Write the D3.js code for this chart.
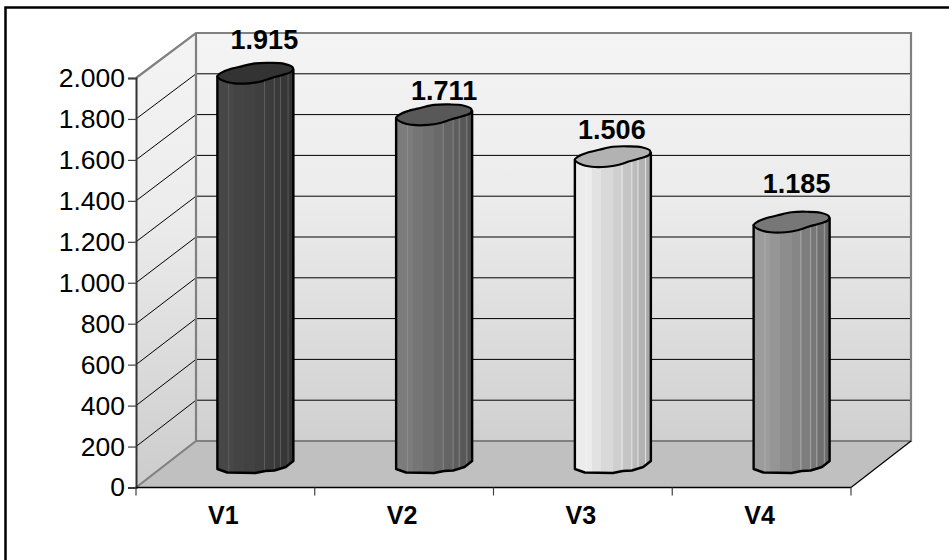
<!DOCTYPE html>
<html>
<head>
<meta charset="utf-8">
<script src="https://cdnjs.cloudflare.com/ajax/libs/d3/7.8.5/d3.min.js"></script>
<style>
  html, body { margin: 0; padding: 0; background: #fff; }
  svg { display: block; font-family: "Liberation Sans", Arial, sans-serif; }
</style>
</head>
<body>
<svg id="chart" width="949" height="560"></svg>
<script>
// Chart data
const categories = ["V1", "V2", "V3", "V4"];
const values = [1915, 1711, 1506, 1185];
const valueLabels = ["1.915", "1.711", "1.506", "1.185"];
const tickValues = [0, 200, 400, 600, 800, 1000, 1200, 1400, 1600, 1800, 2000];
const tickLabels = ["0", "200", "400", "600", "800", "1.000", "1.200", "1.400", "1.600", "1.800", "2.000"];

const svg = d3.select("#chart");
const defs = svg.append("defs");

// Oblique 3D frame: front plane plus a depth offset for the back wall
const depthX = 60;
const frontLeft = 136, frontRight = 851;
const yFront = d3.scaleLinear().domain([0, 2000]).range([487.5, 78]);
const yBack = d3.scaleLinear().domain([0, 2000]).range([441, 33]);
const yMid = d3.scaleLinear().domain([0, 2000]).range([464, 56]);
const xFront = d3.scaleBand().domain(categories).range([frontLeft, frontRight]);
const backLeft = frontLeft + depthX, backRight = frontRight + depthX;

// Chart area border (open at the right and bottom)
svg.append("path")
  .attr("d", "M5.5,560V7.5H949")
  .attr("fill", "none").attr("stroke", "#000").attr("stroke-width", 2.5);

// Wall shading
const wall = defs.append("linearGradient").attr("id", "wall")
  .attr("gradientUnits", "userSpaceOnUse")
  .attr("x1", 0).attr("x2", 0).attr("y1", yBack(2000)).attr("y2", yBack(0));
wall.append("stop").attr("offset", 0).attr("stop-color", "#f4f4f4");
wall.append("stop").attr("offset", 0.4).attr("stop-color", "#ececec");
wall.append("stop").attr("offset", 1).attr("stop-color", "#d0d0d0");
const side = defs.append("linearGradient").attr("id", "side")
  .attr("gradientUnits", "userSpaceOnUse")
  .attr("x1", 0).attr("x2", 0).attr("y1", yBack(2000)).attr("y2", yFront(0));
side.append("stop").attr("offset", 0).attr("stop-color", "#f4f4f4");
side.append("stop").attr("offset", 0.4).attr("stop-color", "#ececec");
side.append("stop").attr("offset", 1).attr("stop-color", "#cccccc");

const polygon = pts => "M" + pts.map(p => p.join(",")).join("L") + "Z";

svg.append("path").attr("fill", "url(#wall)")
  .attr("d", polygon([[backLeft, yBack(2000)], [backRight, yBack(2000)], [backRight, yBack(0)], [backLeft, yBack(0)]]));
svg.append("path").attr("fill", "url(#side)")
  .attr("d", polygon([[frontLeft, yFront(2000)], [backLeft, yBack(2000)], [backLeft, yBack(0)], [frontLeft, yFront(0)]]));
svg.append("path").attr("fill", "#c0c0c0")
  .attr("d", polygon([[frontLeft, yFront(0)], [backLeft, yBack(0)], [backRight, yBack(0)], [frontRight, yFront(0)]]));

// Gridlines on the back wall and the side wall
const inner = tickValues.filter(v => v > 0 && v < 2000);
svg.append("g").selectAll("line").data(inner).join("line")
  .attr("x1", backLeft).attr("x2", backRight)
  .attr("y1", d => yBack(d)).attr("y2", d => yBack(d))
  .attr("stroke", "#000").attr("stroke-width", 1);
svg.append("g").selectAll("line").data(inner).join("line")
  .attr("x1", frontLeft).attr("x2", backLeft)
  .attr("y1", d => yFront(d)).attr("y2", d => yBack(d))
  .attr("stroke", "#000").attr("stroke-width", 1);

// Grey wall edges
svg.append("path")
  .attr("d", `M${frontLeft},${yFront(2000)}L${backLeft},${yBack(2000)}H${backRight}V${yBack(0)}H${backLeft}V${yBack(2000)}M${backLeft},${yBack(0)}L${frontLeft},${yFront(0)}`)
  .attr("fill", "none").attr("stroke", "#808080").attr("stroke-width", 2.2);
svg.append("line")
  .attr("x1", frontRight).attr("y1", yFront(0)).attr("x2", backRight).attr("y2", yBack(0))
  .attr("stroke", "#000").attr("stroke-width", 1.2);

// Axes
const yAxis = d3.axisLeft(yFront).tickValues(tickValues)
  .tickFormat((d, i) => tickLabels[i]).tickSize(8).tickPadding(3);
const gy = svg.append("g").attr("transform", `translate(${frontLeft},0)`).call(yAxis);
gy.select(".domain").attr("stroke", "#333").attr("stroke-width", 2);
gy.selectAll(".tick line").attr("stroke", "#404040").attr("stroke-width", 1.2);
gy.selectAll("text").attr("font-size", 26.5).attr("fill", "#000")
  .attr("font-family", "Liberation Sans");

const gx = svg.append("g").attr("transform", `translate(0,${yFront(0)})`)
  .call(d3.axisBottom(xFront).tickSize(0).tickPadding(19));
gx.select(".domain").remove();
gx.selectAll("text").attr("font-size", 25).attr("font-weight", "bold").attr("fill", "#000")
  .attr("font-family", "Liberation Sans").attr("dx", -2);
svg.append("line").attr("x1", frontLeft).attr("x2", frontRight)
  .attr("y1", yFront(0)).attr("y2", yFront(0)).attr("stroke", "#000").attr("stroke-width", 1.3);
svg.append("g").selectAll("line").data(d3.range(5)).join("line")
  .attr("x1", i => frontLeft + i * xFront.step()).attr("x2", i => frontLeft + i * xFront.step())
  .attr("y1", yFront(0)).attr("y2", yFront(0) + 8)
  .attr("stroke", "#404040").attr("stroke-width", 1.2);

// Cylinder geometry: outline profiles as [fraction of width, vertical offset]
const cylWidth = 76;
const capOutline = [[0, 3], [0.06, -1], [0.16, -4], [0.32, -7], [0.5, -10], [0.7, -10.5], [0.88, -9.5], [0.99, -6],
                    [0.98, -2], [0.86, 1.5], [0.72, 4.5], [0.58, 8], [0.42, 10], [0.22, 10], [0.08, 7.5]];
const baseEdge = [[0, 5], [0.13, 8.5], [0.5, 9], [0.63, 7], [0.75, 6.5], [0.9, 3], [1, -3]];
const bandEdges = [0, 0.22, 0.35, 0.5, 0.63, 0.75, 0.85, 0.95, 1];
const seamAt = [0.15, 0.62, 0.75, 0.83, 0.93];

const bodyShades = [["#474747", "#343434"], ["#7c7c7c", "#525252"], ["#ececec", "#a8a8a8"], ["#9c9c9c", "#686868"]];
const capFills = ["#333333", "#585858", "#b2b2b2", "#777777"];
const seamFills = ["#6a6a6a", "#939393", "#f4f4f4", "#b4b4b4"];
// Data label nudges away from the cylinder's axis
const labelDx = [9, 10, -1, 5];
const labelDy = [-24, -15, -18, -29];

const outline = d3.line();
const capLine = d3.line().curve(d3.curveCatmullRomClosed.alpha(0.5));
const g = svg.append("g");

categories.forEach((cat, i) => {
  const cx = xFront(cat) + xFront.bandwidth() / 2 + depthX / 2;
  const left = cx - cylWidth / 2;
  const topY = yMid(values[i]);
  const baseY = yMid(0);
  const px = u => left + u * cylWidth;

  // Vertical facets, built as hard-edged gradient stops
  const grad = defs.append("linearGradient").attr("id", `facets${i}`);
  const shade = d3.interpolateRgb(bodyShades[i][0], bodyShades[i][1]);
  bandEdges.slice(0, -1).forEach((e, k) => {
    const c = shade(k / (bandEdges.length - 2));
    grad.append("stop").attr("offset", e).attr("stop-color", c);
    grad.append("stop").attr("offset", bandEdges[k + 1]).attr("stop-color", c);
  });

  const bodyPts = [
    [px(0), topY + 3],
    ...baseEdge.map(([u, d]) => [px(u), baseY + d]),
    [px(1), topY - 4]
  ];
  const clipId = `body${i}`;
  defs.append("clipPath").attr("id", clipId).append("path").attr("d", outline(bodyPts) + "Z");

  g.append("path").attr("d", outline(bodyPts) + "Z").attr("fill", `url(#facets${i})`);
  g.append("g").attr("clip-path", `url(#${clipId})`)
    .selectAll("line").data(seamAt).join("line")
    .attr("x1", px).attr("x2", px).attr("y1", topY).attr("y2", baseY + 10)
    .attr("stroke", seamFills[i]).attr("stroke-width", 0.7);
  g.append("path").attr("d", outline(bodyPts) + "Z")
    .attr("fill", "none").attr("stroke", "#000").attr("stroke-width", 2.4).attr("stroke-linejoin", "round");

  const capPts = capOutline.map(([u, d]) => [px(u), topY + d]);
  g.append("path").attr("d", capLine(capPts))
    .attr("fill", capFills[i]).attr("stroke", "#000").attr("stroke-width", 2.2).attr("stroke-linejoin", "round");

  svg.append("text")
    .attr("x", cx + labelDx[i]).attr("y", topY + labelDy[i])
    .attr("text-anchor", "middle")
    .attr("font-size", 27).attr("font-weight", "bold").attr("fill", "#000")
    .text(valueLabels[i]);
});
</script>
</body>
</html>
